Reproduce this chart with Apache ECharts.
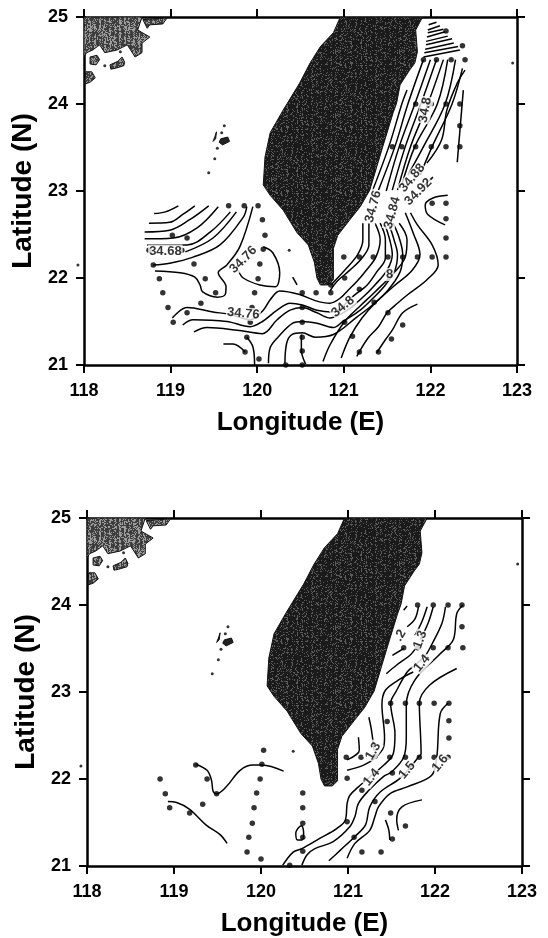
<!DOCTYPE html>
<html><head><meta charset="utf-8">
<style>html,body{margin:0;padding:0;background:#fff}#c{width:548px;height:938px}</style>
<script src="https://cdn.jsdelivr.net/npm/echarts@6/dist/echarts.min.js"></script>
</head><body><div id="c"></div>
<script>
const lonTicks = {min:118, max:123, step:1};
const latTicks = {min:21, max:25, step:1};
const taiwan = [[120.96,25],[121.91,25],[121.83,24.85],[121.85,24.6],[121.82,24.47],[121.76,24.39],[121.65,24.22],[121.61,24.01],[121.57,23.9],[121.45,23.51],[121.3,23.01],[121.19,22.82],[121.07,22.67],[120.93,22.49],[120.88,22.34],[120.88,22.13],[120.88,21.98],[120.82,21.92],[120.73,21.92],[120.69,22],[120.66,22.18],[120.59,22.38],[120.46,22.52],[120.3,22.78],[120.15,22.95],[120.07,23.07],[120.09,23.39],[120.15,23.67],[120.3,23.93],[120.49,24.24],[120.61,24.47],[120.73,24.66],[120.88,24.82]];
const chinaMain = [[118,25],[118.67,25],[118.62,24.85],[118.76,24.77],[118.67,24.7],[118.67,24.59],[118.59,24.54],[118.5,24.68],[118.38,24.62],[118.24,24.59],[118.18,24.68],[118.1,24.62],[118.03,24.59],[118,24.54]];
const chinaCape = [[118.68,24.97],[118.96,24.99],[118.91,24.92],[118.76,24.91],[118.73,24.87]];
const isleA = [[118.07,24.54],[118.15,24.56],[118.18,24.51],[118.14,24.45],[118.07,24.46]];
const isleB = [[118.3,24.45],[118.39,24.49],[118.44,24.54],[118.47,24.48],[118.46,24.44],[118.36,24.41],[118.31,24.4]];
const isleC = [[118.02,24.37],[118.09,24.37],[118.13,24.3],[118.07,24.25],[118.01,24.23]];
const penghu = [[119.58,23.6],[119.66,23.62],[119.68,23.57],[119.6,23.53],[119.56,23.56]];
const penghuWest = [[119.53,23.68],[119.51,23.62],[119.49,23.57],[119.52,23.6]];
const islets = [[119.62,23.75],[119.59,23.67],[119.54,23.49],[119.51,23.37],[119.44,23.21],[120.37,22.32],[118.24,24.44],[118.42,24.6],[122.95,24.47],[117.93,22.15]];

const stationsTop = [[122.18,24.84],[122.37,24.67],[121.92,24.51],[122.07,24.51],[122.24,24.51],[122.4,24.51],[121.83,24],[122.01,24],[122.18,24],[122.34,24],[122.34,23.75],[121.56,23.51],[121.67,23.51],[121.83,23.51],[122.01,23.51],[122.18,23.51],[122.34,23.51],[122.02,22.86],[122.18,22.86],[122.18,22.68],[122.18,22.46],[121,22.24],[121.18,22.24],[121.34,22.24],[121.51,22.24],[121.68,22.24],[121.85,22.24],[122.02,22.24],[122.18,22.24],[121.01,22],[121.18,21.87],[120.85,21.92],[120.85,21.83],[120.68,21.83],[120.52,21.83],[121.35,21.72],[121.51,21.6],[121.01,21.49],[121.68,21.46],[121.1,21.33],[121.55,21.3],[121.18,21.15],[121.4,21.15],[120.52,21.66],[120.52,21.49],[120.52,21.32],[120.52,21.16],[119.67,22.83],[119.85,22.83],[120.01,22.83],[120.06,22.67],[120.09,22.49],[120.07,22.33],[120.03,22.16],[120.01,21.99],[119.97,21.83],[119.94,21.66],[119.92,21.49],[119.88,21.32],[119.86,21.15],[120.02,21.07],[119.02,22.49],[119.19,22.46],[118.75,22.32],[119.13,22.32],[118.8,22.15],[119.27,22.16],[118.87,21.99],[119.4,21.99],[118.91,21.83],[119.52,21.83],[118.97,21.66],[119.35,21.71],[119.19,21.6],[119.03,21.49],[120.33,21],[120.52,21]];
const stationsBottom = [[121.8,24],[121.98,24],[122.15,24],[122.31,24],[122.31,23.75],[121.64,23.51],[121.8,23.51],[121.98,23.51],[122.15,23.51],[122.32,23.51],[121.49,22.87],[121.66,22.87],[121.82,22.87],[121.99,22.87],[122.16,22.87],[121.45,22.66],[122.16,22.67],[122.16,22.47],[120.98,22.25],[121.15,22.25],[121.31,22.26],[121.48,22.25],[121.66,22.25],[121.82,22.25],[121.99,22.25],[122.15,22.25],[120.99,22.01],[121.16,21.87],[121.51,22.07],[121.31,21.74],[121.49,21.61],[120.99,21.51],[121.66,21.46],[121.07,21.33],[121.51,21.31],[121.16,21.16],[121.38,21.16],[120.48,21.84],[120.48,21.67],[120.48,21.49],[120.48,21.33],[120.48,21.17],[120.03,22.33],[120.01,22.17],[119.99,22],[119.95,21.84],[119.92,21.67],[119.9,21.49],[119.86,21.33],[119.84,21.16],[120,21.08],[119.25,22.16],[119.38,22],[119.49,21.83],[119.33,21.71],[119.18,21.61],[118.84,22],[118.9,21.83],[118.95,21.67],[120.33,21.01]];

const s1=[[121.98,24.91],[122.07,24.94]], s2=[[121.97,24.85],[122.11,24.9]], s3=[[121.97,24.82],[122.15,24.86]], s4=[[121.96,24.77],[122.17,24.83]], s5=[[121.95,24.72],[122.2,24.78]], s6=[[121.95,24.68],[122.25,24.75]], s7=[[121.94,24.63],[122.27,24.7]], s8=[[121.93,24.59],[122.32,24.66]], s9=[[121.92,24.54],[122.34,24.62]];
const l1=[[121.73,24.16],[121.67,24],[121.52,23.51],[121.33,23]];
const l2=[[121.92,24.51],[121.74,24],[121.59,23.51],[121.4,23.01]];
const l3=[[122,24.51],[121.82,24],[121.64,23.51],[121.49,23]];
const l4=[[122.07,24.51],[121.89,24],[121.71,23.51],[121.56,23.01]];
const l5=[[122.15,24.51],[121.97,24],[121.77,23.51],[121.62,23.01]];
const l6=[[122.2,24.51],[122.08,24],[121.82,23.51],[121.67,23.07]];
const l7=[[122.29,24.51],[122.17,24],[121.92,23.51],[121.74,23.18]];
const l8=[[122.37,24.41],[122.25,24],[122.02,23.51],[121.88,23.18]];
const l9=[[122.4,24.39],[122.31,24.24],[122.19,23.93],[122.13,23.59],[121.96,23.32]];
const l9b=[[122.03,23.16],[121.9,23.04]];
const l10=[[122.38,24.16],[122.31,23.33]];
const t1c=[[122.2,22.95],[122.03,22.92],[121.94,22.84],[121.97,22.73],[122.17,22.61]];
const b1=[[121.22,22.63],[121.22,22.44],[121.16,22.27],[121.01,22.09],[120.85,21.92]];
const b2=[[121.29,22.63],[121.29,22.38],[121.21,22.23],[121.07,22.09],[120.92,21.96],[120.84,21.85]];
const b3=[[119.02,21.54],[119.19,21.66],[119.49,21.61],[119.69,21.58],[119.92,21.52],[120.07,21.63],[120.15,21.75],[120.26,21.85],[120.49,21.81],[120.67,21.74],[120.84,21.71],[120.96,21.77],[121.05,21.86],[121.15,21.96],[121.26,22.09],[121.37,22.24],[121.42,22.44],[121.36,22.63]];
const b4=[[119.14,21.46],[119.26,21.52],[119.65,21.5],[119.92,21.44],[120.06,21.5],[120.23,21.63],[120.38,21.71],[120.52,21.69],[120.69,21.63],[120.86,21.61],[121.13,21.81],[121.27,21.92],[121.38,22.07],[121.48,22.23],[121.48,22.44],[121.42,22.63]];
const b5=[[119.27,21.38],[119.42,21.43],[119.77,21.4],[120.06,21.36],[120.23,21.52],[120.38,21.63],[120.52,21.66],[120.69,21.6],[120.84,21.54],[121.01,21.61],[121.21,21.77],[121.36,21.92],[121.5,22.09],[121.56,22.27],[121.53,22.44],[121.47,22.63]];
const b6=[[120.13,21.02],[120.15,21.2],[120.24,21.32],[120.41,21.48],[120.52,21.5],[120.69,21.48],[120.88,21.43],[120.99,21.5],[121.19,21.63],[121.34,21.77],[121.48,21.92],[121.59,22.09],[121.62,22.27],[121.58,22.44],[121.52,22.63]];
const b7=[[120.32,21.02],[120.34,21.25],[120.4,21.35],[120.52,21.37],[120.67,21.32],[120.88,21.35],[121.15,21.55],[121.33,21.69],[121.51,21.86],[121.65,22.07],[121.68,22.27],[121.64,22.46],[121.57,22.63]];
const b8=[[120.76,21.04],[120.84,21.23],[121.01,21.5],[121.18,21.67],[121.36,21.84],[121.56,22.04],[121.71,22.24],[121.73,22.44],[121.64,22.63]];
const b9=[[120.97,21.08],[121.07,21.32],[121.21,21.54],[121.36,21.71],[121.57,21.9],[121.79,22.09],[121.88,22.27],[121.8,22.52],[121.71,22.75]];
const b10=[[121.15,21.1],[121.28,21.31],[121.4,21.44],[121.5,21.6],[121.62,21.71],[121.74,21.81],[121.96,21.98],[122.09,22.15],[122.02,22.38],[121.85,22.61],[121.77,22.75]];
const f2=[[121.85,21.7],[121.68,21.6],[121.56,21.4],[121.48,21.29],[121.38,21.14]];
const wa=[[118.81,22.74],[118.94,22.76],[119.09,22.83]];
const wb=[[118.75,22.63],[118.99,22.64],[119.14,22.73],[119.28,22.83]];
const wc=[[118.7,22.53],[118.99,22.55],[119.22,22.67],[119.44,22.83]];
const wd=[[118.7,22.45],[119.03,22.46],[119.31,22.58],[119.55,22.82]];
const we=[[118.73,22.38],[119.19,22.38],[119.46,22.53],[119.69,22.76]];
const wf=[[119.17,22.3],[119.49,22.46],[119.76,22.76]];
const wg=[[118.8,22.15],[118.99,22.17],[119.26,22.24],[119.57,22.38],[119.84,22.7],[119.88,22.82]];
const wh=[[118.82,22.08],[119.11,22.06],[119.28,22.01],[119.34,21.92],[119.37,21.84],[119.54,21.78],[119.63,21.81],[119.64,21.9],[119.55,22.06],[119.65,22.15],[119.8,22.36],[119.95,22.82]];
const loop=[[120.07,22.36],[120.18,22.29],[120.26,22.06],[120.21,21.9],[120.03,21.92],[119.84,22],[119.78,22.09]];
const sm1=[[120.41,22.01],[120.46,21.92]];
const sm2=[[119.61,21.24],[119.72,21.24],[119.86,21.15]];
const sm3=[[119.88,21.32],[119.95,21.21],[119.97,21]];
const sm4=[[120.51,21.35],[120.51,21.17],[120.56,21.01]];
const contoursTop=[s1,s2,s3,s4,s5,s6,s7,s8,s9,l1,l2,l3,l4,l5,l6,l7,l8,l9,l9b,l10,t1c,b1,b2,b3,b4,b5,b6,b7,b8,b9,b10,f2,wa,wb,wc,wd,we,wf,wg,wh,loop,sm1,sm2,sm3,sm4];

const c1=[[120.25,21.01],[120.37,21.16],[120.47,21.2],[120.68,21.32],[120.87,21.43],[120.97,21.53],[120.99,21.72],[121.02,21.81],[121.12,21.91],[121.27,22.04],[121.39,22.14],[121.52,22.29],[121.54,22.52],[121.49,22.87],[121.56,23.02],[121.68,23.23],[121.77,23.31],[121.89,23.42],[121.96,23.54],[122.08,23.79],[122.12,23.98]];
const c2=[[120.47,21.01],[120.53,21.13],[120.62,21.2],[120.83,21.28],[121.02,21.45],[121.08,21.57],[121.12,21.72],[121.24,21.87],[121.41,22.03],[121.5,22.08],[121.64,22.25],[121.67,22.48],[121.67,22.85],[121.77,23.14],[122.06,23.44],[122.21,23.6],[122.25,23.9],[122.32,24]];
const c3=[[120.78,21.06],[120.91,21.18],[121.08,21.34],[121.2,21.47],[121.25,21.68],[121.37,21.85],[121.6,22.01],[121.81,22.25],[121.84,22.29],[121.82,22.87],[121.94,23.08],[122.25,23.27]];
const c4=[[120.99,21.09],[121.08,21.26],[121.25,21.41],[121.31,21.57],[121.35,21.68],[121.48,21.83],[121.68,21.91],[121.96,22.04],[122.02,22.25],[122.06,22.75],[122.15,22.87]];
const c5=[[121.43,21.53],[121.47,21.41],[121.48,21.3]];
const c6=[[121.58,21.41],[121.56,21.53],[121.62,21.68],[121.85,21.76]];
const i1=[[120.99,22.1],[121.18,22.16],[121.31,22.24],[121.41,22.37],[121.42,22.48],[121.39,22.85],[121.43,23.02],[121.6,23.15],[121.75,23.23]];
const i2=[[121.24,22.71],[121.27,22.56],[121.3,22.33]];
const i3=[[121.12,22.48],[121.13,22.33],[120.99,22.22]];
const t1=[[121.64,23.94],[121.68,23.99]];
const t2=[[121.81,23.98],[121.77,23.84],[121.68,23.75]];
const t3=[[121.91,23.98],[121.85,23.81],[121.77,23.65]];
const t3b=[[121.51,23.42],[121.64,23.5]];
const t4=[[121.44,23.21],[121.56,23.31],[121.71,23.42],[121.77,23.49]];
const t5=[[121.98,23.98],[121.92,23.79],[121.83,23.6]];
const d1=[[119.25,22.17],[119.38,22.1],[119.43,21.99],[119.45,21.86],[119.49,21.83],[119.6,21.91],[119.76,22.1],[119.91,22.16],[120.01,22.16],[120.26,22.09]];
const d2=[[118.93,21.74],[119.03,21.73],[119.18,21.65],[119.37,21.47],[119.53,21.36],[119.61,21.26]];
const d3=[[120.45,21.46],[120.4,21.38],[120.42,21.3],[120.47,21.3],[120.49,21.38],[120.47,21.46],[120.45,21.46]];
const contoursBottom=[c1,c2,c3,c4,c5,c6,i1,i2,i3,t1,t2,t3,t3b,t4,t5,d1,d2,d3];

const labelsTop=[["34.68",118.94,22.31,0],["34.76",119.84,22.21,45],["34.76",119.84,21.59,-5],["34.8",120.99,21.67,40],["34.8",121.94,23.93,80],["34.76",121.34,22.82,75],["34.84",121.56,22.75,75],["34.88",121.79,23.15,50],["34.92",121.86,22.99,45],["8",121.53,22.04,0]];
const labelsBottom=[["1.3",121.83,23.6,70],[".2",121.6,23.65,60],["1.4",121.85,23.33,50],["1.3",121.29,22.32,60],["1.4",121.27,22.02,50],["1.5",121.68,22.1,50],["1.6",122.06,22.18,50]];

const FONT='"Liberation Sans",Arial,sans-serif';
function speckle(base,spot,density){
  const cv=document.createElement('canvas');cv.width=cv.height=64;
  const g=cv.getContext('2d');g.fillStyle=base;g.fillRect(0,0,64,64);g.fillStyle=spot;
  let s=12345;
  for(let y=0;y<64;y++)for(let x=0;x<64;x++){
    s=(s*1103515245+12345)&0x7fffffff;
    const f=(s>>16&255)/255;
    if(f<density*(x%5<2?1.5:0.6)) g.fillRect(x,y,1,1);
  }
  return {image:cv,repeat:'repeat'};
}
const darkFill=speckle('#1a1a1a','#5c5c5c',0.2);
const greyFill=speckle('#3e3e3e','#9c9c9c',0.4);

function land(poly,fill,i,name){
  return {type:'custom',name:name,xAxisIndex:i*2,yAxisIndex:i*2,coordinateSystem:'cartesian2d',clip:true,silent:true,z:1,
    data:[0],encode:{x:[],y:[]},
    renderItem:(p,api)=>({type:'polygon',shape:{points:poly.map(q=>api.coord(q))},style:{fill:fill,stroke:'#111',lineWidth:1}})};
}
function panelSeries(i,contours,stations,labels){
  const out=[];
  out.push(land(taiwan,darkFill,i,'Taiwan'));
  [chinaMain,chinaCape,isleA,isleB,isleC].forEach(p=>out.push(land(p,greyFill,i,'China coast')));
  [penghu,penghuWest].forEach(p=>out.push(land(p,'#222',i,'Penghu')));
  out.push({type:'scatter',name:'islets',xAxisIndex:i*2,yAxisIndex:i*2,clip:false,symbolSize:3,itemStyle:{color:'#000'},data:islets,z:2,silent:true});
  contours.forEach(c=>out.push({type:'line',xAxisIndex:i*2,yAxisIndex:i*2,data:c,smooth:0.35,symbol:'none',clip:true,
    lineStyle:{color:'#000',width:1.5},z:3,silent:true}));
  out.push({type:'scatter',name:'stations',xAxisIndex:i*2,yAxisIndex:i*2,clip:false,symbolSize:5.5,itemStyle:{color:'#000'},data:stations,z:4,silent:true});
  out.push({type:'scatter',name:'labels',xAxisIndex:i*2,yAxisIndex:i*2,symbolSize:1,itemStyle:{color:'#fff'},z:5,silent:true,
    data:labels.map(l=>({value:[l[1],l[2]],label:{show:true,position:'inside',formatter:l[0],rotate:l[3],fontFamily:FONT,fontWeight:'bold',fontSize:13,color:'#000',backgroundColor:'#fff',padding:[0,1]}}))});
  return out;
}
const tick={show:true,length:8,inside:false,lineStyle:{color:'#000',width:2}};
const axLine={show:true,onZero:false,lineStyle:{color:'#000',width:2.5}};
function xA(grid,pos,main,gap){return {type:'value',gridIndex:grid,position:pos,min:lonTicks.min,max:lonTicks.max,interval:lonTicks.step,
  axisLine:axLine,axisTick:tick,splitLine:{show:false},
  axisLabel:{show:main,color:'#000',fontFamily:FONT,fontWeight:'bold',fontSize:18,margin:17,formatter:v=>String(v)},
  name:main?'Longitude (E)':'',nameLocation:'middle',nameGap:gap,nameTextStyle:{color:'#000',fontFamily:FONT,fontWeight:'bold',fontSize:26}};}
function yA(grid,pos,main){return {type:'value',gridIndex:grid,position:pos,min:latTicks.min,max:latTicks.max,interval:latTicks.step,
  axisLine:axLine,axisTick:tick,splitLine:{show:false},
  axisLabel:{show:main,color:'#000',fontFamily:FONT,fontWeight:'bold',fontSize:18,margin:16,formatter:v=>String(v)},
  name:main?'Latitude (N)':'',nameLocation:'middle',nameGap:42,nameTextStyle:{color:'#000',fontFamily:FONT,fontWeight:'bold',fontSize:28}};}

const chart=echarts.init(document.getElementById('c'),null,{renderer:'canvas'});
chart.setOption({
  animation:false,backgroundColor:'#fff',
  grid:[{left:84,top:17,width:433,height:348,outerBoundsMode:'none'},{left:87,top:518,width:435,height:348,outerBoundsMode:'none'}],
  xAxis:[xA(0,'bottom',true,45),xA(0,'top',false,0),xA(1,'bottom',true,45),xA(1,'top',false,0)],
  yAxis:[yA(0,'left',true),yA(0,'right',false),yA(1,'left',true),yA(1,'right',false)],
  series:[...panelSeries(0,contoursTop,stationsTop,labelsTop),...panelSeries(1,contoursBottom,stationsBottom,labelsBottom)]
});
</script></body></html>
